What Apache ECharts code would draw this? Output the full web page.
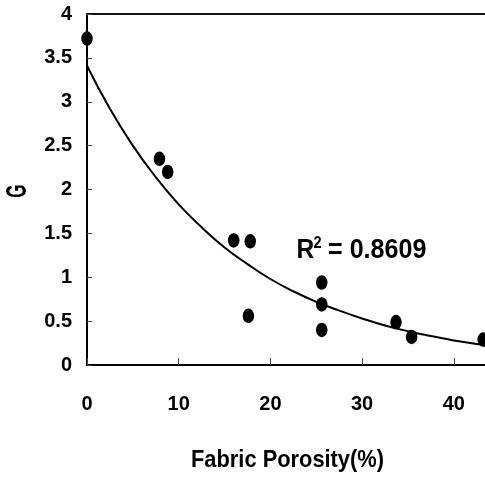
<!DOCTYPE html>
<html>
<head>
<meta charset="utf-8">
<script src="https://cdn.jsdelivr.net/npm/echarts@6/dist/echarts.min.js"></script>
<style>html,body{margin:0;padding:0;background:#fff}#c{width:485px;height:479px}</style>
</head>
<body>
<div id="c"></div>
<script>
// Measured points (fabric porosity %, G)
var porosity = [0, 7.9, 8.8, 16.0, 17.8, 17.6, 25.6, 25.6, 25.6, 33.7, 35.4, 43.2];
var gValues  = [3.72, 2.35, 2.20, 1.42, 1.41, 0.56, 0.94, 0.69, 0.40, 0.49, 0.32, 0.29];
// Trend line
var trendX = [0, 2.5, 5, 7.5, 10, 12.5, 15, 17.5, 20, 22.5, 25, 27.5, 30, 32.5, 35, 37.5, 40, 42.5, 45];
var trendY = [3.41, 2.92, 2.50, 2.14, 1.83, 1.57, 1.34, 1.15, 0.98, 0.84, 0.72, 0.62, 0.53, 0.45, 0.385, 0.33, 0.28, 0.24, 0.21];
var xTicks = [0, 10, 20, 30, 40, 50];
var yTicks = [0, 0.5, 1, 1.5, 2, 2.5, 3, 3.5, 4];
var xTitle = 'Fabric Porosity(%)';
var yTitle = 'G';
var r2Label = 'R';
var r2Sup = '2';
var r2Text = '= 0.8609';

var FONT = '"Liberation Sans",Arial,sans-serif';
var chart = echarts.init(document.getElementById('c'));
chart.setOption({
  animation: false,
  backgroundColor: '#fff',
  grid: {left: 87, top: 14, bottom: 114, width: 458.5, outerBoundsMode: 'none', containLabel: false,
         show: true, borderColor: '#111', borderWidth: 2, backgroundColor: 'transparent'},
  xAxis: {
    type: 'value', min: xTicks[0], max: xTicks[xTicks.length - 1], interval: 10,
    axisLine: {lineStyle: {color: '#000', width: 2}},
    axisTick: {inside: true, length: 7, lineStyle: {color: '#444', width: 1}},
    axisLabel: {margin: 29, fontFamily: FONT, fontWeight: 'bold', fontSize: 20, color: '#000'},
    splitLine: {show: false}
  },
  yAxis: {
    type: 'value', min: yTicks[0], max: yTicks[yTicks.length - 1], interval: 0.5,
    axisLine: {lineStyle: {color: '#000', width: 2}},
    axisTick: {inside: true, length: 5, lineStyle: {color: '#444', width: 1}},
    axisLabel: {margin: 15, fontFamily: FONT, fontWeight: 'bold', fontSize: 20, color: '#000'},
    splitLine: {show: false}
  },
  graphic: [{
    type: 'text', x: 18, y: 191, rotation: Math.PI / 2, scaleX: 0.57,
    style: {text: yTitle, font: 'bold 30px ' + FONT, fill: '#000', align: 'center', verticalAlign: 'middle'}
  }, {
    type: 'text', x: 287.5, y: 460, scaleX: 0.91,
    style: {text: xTitle, font: 'bold 24px ' + FONT, fill: '#000', align: 'center', verticalAlign: 'middle'}
  }, {
    type: 'text', x: 296.5, y: 250.5, scaleX: 0.91,
    style: {text: r2Label, font: 'bold 27px ' + FONT, fill: '#000', align: 'left', verticalAlign: 'middle'}
  }, {
    type: 'text', x: 313.5, y: 244, scaleX: 0.91,
    style: {text: r2Sup, font: 'bold 16px ' + FONT, fill: '#000', align: 'left', verticalAlign: 'middle'}
  }, {
    type: 'text', x: 328, y: 250.5, scaleX: 0.93,
    style: {text: r2Text, font: 'bold 27px ' + FONT, fill: '#000', align: 'left', verticalAlign: 'middle'}
  }],
  series: [{
    type: 'line', data: trendX.map(function (x, i) { return [x, trendY[i]]; }),
    smooth: true, showSymbol: false, symbol: 'none',
    lineStyle: {color: '#000', width: 2}, z: 2
  }, {
    type: 'scatter', data: porosity.map(function (x, i) { return [x, gValues[i]]; }),
    symbol: 'circle', symbolSize: [11.5, 14.5],
    itemStyle: {color: '#000', opacity: 1}, z: 3
  }]
});
</script>
</body>
</html>
